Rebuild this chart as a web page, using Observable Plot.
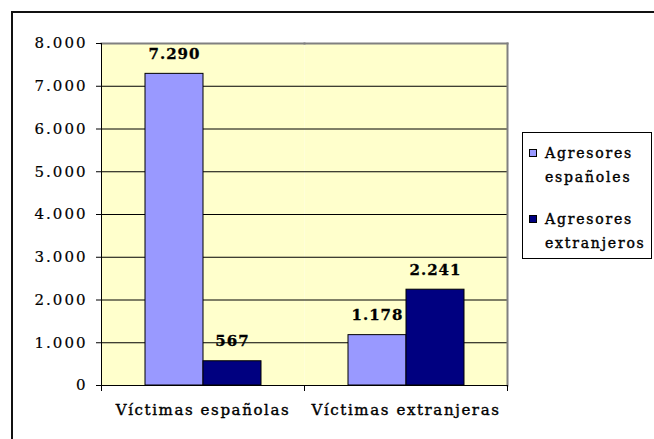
<!DOCTYPE html>
<html><head><meta charset="utf-8">
<script src="https://cdn.jsdelivr.net/npm/d3@7"></script>
<script src="https://cdn.jsdelivr.net/npm/@observablehq/plot@0.6"></script>
<style>
html,body{margin:0;padding:0;background:#fff;}
body{width:654px;height:439px;overflow:hidden;position:relative;font-family:"DejaVu Serif",serif;}
#frame{position:absolute;left:11px;top:11px;width:700px;height:500px;border-left:2px solid #111;border-top:2px solid #111;}
#chart{position:absolute;left:0;top:0;}
#chart svg{overflow:visible;}
g[aria-label="y-axis tick label"] text{letter-spacing:2px;stroke:#000;stroke-width:0.2px;}
g[aria-label="fx-axis tick label"] text{letter-spacing:1.6px;stroke:#000;stroke-width:0.4px;}
g[aria-label="text"] text{letter-spacing:1px;stroke:#000;stroke-width:0.3px;}
#legend{position:absolute;left:522px;top:132px;width:128px;height:125px;border:1px solid #000;background:#fff;}
.item{position:absolute;left:0;width:128px;}
.sw{position:absolute;left:6px;top:8px;width:6px;height:6px;border:1px solid #000;}
.lt{position:absolute;left:22px;top:0;font-size:14px;line-height:24px;letter-spacing:1.8px;color:#000;white-space:nowrap;-webkit-text-stroke:0.4px #000;}
</style></head>
<body>
<div id="frame"></div>
<div id="chart"></div>
<div id="legend"></div>
<script>
const categories = ["Víctimas españolas", "Víctimas extranjeras"];
const series = ["Agresores españoles", "Agresores extranjeros"];
const seriesLines = [["Agresores", "españoles"], ["Agresores", "extranjeros"]];
const colors = ["#9999FF", "#000080"];
const agresoresEspanoles = [7290, 1178];
const agresoresExtranjeros = [567, 2241];
const yTicks = [0, 1000, 2000, 3000, 4000, 5000, 6000, 7000, 8000];

const data = categories.flatMap((c, i) => [
  {category: c, series: series[0], value: agresoresEspanoles[i]},
  {category: c, series: series[1], value: agresoresExtranjeros[i]}
]);

const fmt = d3.formatLocale({decimal: ",", thousands: ".", grouping: [3], currency: ["", "€"]}).format(",d");

const chart = Plot.plot({
  width: 654, height: 439,
  marginLeft: 101, marginRight: 147, marginTop: 43, marginBottom: 54,
  style: {fontFamily: "DejaVu Serif", fontSize: "15px", background: "transparent", color: "#000"},
  fx: {domain: categories, padding: 0, label: null},
  x: {domain: series, paddingInner: 0, paddingOuter: 0.735, axis: null},
  y: {domain: [0, 8000], label: null},
  color: {domain: series, range: colors},
  marks: [
    Plot.frame({fill: "#FFFFCC", stroke: null}),
    Plot.gridY(yTicks.slice(1, -1), {stroke: "#000", strokeOpacity: 1}),
    Plot.frame({anchor: "top", stroke: "#808080", strokeWidth: 2}),
    Plot.frame({anchor: "right", stroke: "#808080", strokeWidth: 2, facetAnchor: "right"}),
    Plot.barY(data, {fx: "category", x: "series", y: "value", fill: "series", stroke: "#000", strokeWidth: 1}),
    Plot.text(data, {fx: "category", x: "series", y: "value", text: d => fmt(d.value), dy: -15, lineAnchor: "bottom", fontWeight: "bold", fontSize: 15, fill: "#000"}),
    Plot.frame({anchor: "left", stroke: "#000", facetAnchor: "left"}),
    Plot.ruleY([0], {stroke: "#000"}),
    Plot.frame({anchor: "left", stroke: "#000", insetTop: 342, insetBottom: -5}),
    Plot.frame({anchor: "right", stroke: "#000", insetTop: 342, insetBottom: -5}),
    Plot.axisY(yTicks, {tickSize: 5, tickPadding: 9, tickFormat: fmt, fontSize: 15, label: null}),
    Plot.axisFx({anchor: "bottom", tickSize: 0, tickPadding: 19, fontSize: 15, label: null})
  ]
});
document.getElementById("chart").appendChild(chart);

const legend = document.getElementById("legend");
const itemTops = [8, 74];
series.forEach((s, i) => {
  const item = document.createElement("div");
  item.className = "item";
  item.style.top = itemTops[i] + "px";
  const sw = document.createElement("div");
  sw.className = "sw";
  sw.style.background = colors[i];
  const lt = document.createElement("div");
  lt.className = "lt";
  lt.innerHTML = seriesLines[i].join("<br>");
  item.appendChild(sw);
  item.appendChild(lt);
  legend.appendChild(item);
});
</script>
</body></html>
